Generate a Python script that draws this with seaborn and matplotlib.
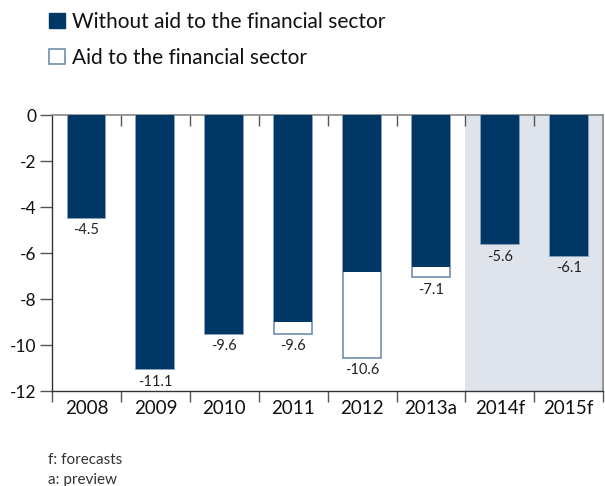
import matplotlib
matplotlib.use("Agg")
import matplotlib.pyplot as plt
import seaborn as sns
import pandas as pd
from matplotlib.patches import Patch

years = ['2008', '2009', '2010', '2011', '2012', '2013a', '2014f', '2015f']
without_aid = [-4.45, -11.05, -9.5, -9.0, -6.8, -6.6, -5.6, -6.1]
aid = [0.0, 0.0, 0.0, -0.5, -3.75, -0.45, 0.0, 0.0]
labels = [-4.5, -11.1, -9.6, -9.6, -10.6, -7.1, -5.6, -6.1]
yticks = [0, -2, -4, -6, -8, -10, -12]
footnotes = ['f: forecasts', 'a: preview']

DARK = '#003764'
EDGE = '#6f8fb0'
SHADE = '#dfe3ec'

sns.set_theme(style='white')
plt.rcParams['font.family'] = ['Lato', 'DejaVu Sans']
plt.rcParams['axes.unicode_minus'] = False

df = pd.DataFrame({
    'year': years,
    'without': without_aid,
    'total': [w + a for w, a in zip(without_aid, aid)],
    'label': labels,
})

fig = plt.figure(figsize=(6.05, 4.86), dpi=100)
ax = fig.add_axes([0.086, 0.195, 0.911, 0.568])

ax.axvspan(5.5, 7.5, color=SHADE, zorder=0, lw=0)

sns.barplot(data=df, x='year', y='total', ax=ax, color='white',
            edgecolor=EDGE, linewidth=1.2, width=0.55, saturation=1, zorder=2)
sns.barplot(data=df, x='year', y='without', ax=ax, color=DARK,
            edgecolor=DARK, linewidth=0, width=0.55, saturation=1, zorder=3)

for i, (t, l) in enumerate(zip(df['total'], df['label'])):
    ax.annotate(f'{l:.1f}', xy=(i, t), xytext=(0, -4), textcoords='offset points',
                ha='center', va='top', fontsize=10.5, color='#222222')

ax.set_xlim(-0.5, 7.5)
ax.set_ylim(-12, 0)
ax.set_yticks(yticks)
ax.set_yticklabels([str(v) for v in yticks], fontsize=12.5)
ax.set_xlabel('')
ax.set_ylabel('')
ax.set_xticks(range(len(years)))
ax.set_xticklabels(years, fontsize=13.5)
ax.set_xticks([i - 0.5 for i in range(len(years) + 1)], minor=True)
ax.tick_params(axis='x', which='major', length=0, pad=6, colors='#111111')
ax.tick_params(axis='x', which='minor', length=8, width=1, color='#555555',
               direction='out', bottom=True)
ax.tick_params(axis='y', length=9, width=1, color='#555555', left=True,
               direction='out', pad=2, labelcolor='#111111')

for s in ['left', 'bottom']:
    ax.spines[s].set_color('#333333')
    ax.spines[s].set_linewidth(1)
for s in ['top', 'right']:
    ax.spines[s].set_color('#888888')
    ax.spines[s].set_linewidth(1.2)

sec = ax.secondary_xaxis('top')
sec.set_xticks([i - 0.5 for i in range(1, len(years))])
sec.set_xticklabels([])
sec.tick_params(direction='in', length=8, width=1, color='#555555')
sec.spines['top'].set_visible(False)

handles = [Patch(facecolor=DARK, edgecolor=DARK, label='Without aid to the financial sector'),
           Patch(facecolor='white', edgecolor=EDGE, linewidth=1.2, label='Aid to the financial sector')]
fig.legend(handles=handles, loc='upper left', bbox_to_anchor=(0.05, 1.014), frameon=False,
           fontsize=15, handlelength=0.75, handleheight=0.75, handletextpad=0.35,
           labelspacing=0.75, labelcolor='#111111')

fig.text(0.079, 0.054, footnotes[0], fontsize=11, color='#333333', va='center')
fig.text(0.079, 0.013, footnotes[1], fontsize=11, color='#333333', va='center')

fig.savefig('out.png', dpi=100)
